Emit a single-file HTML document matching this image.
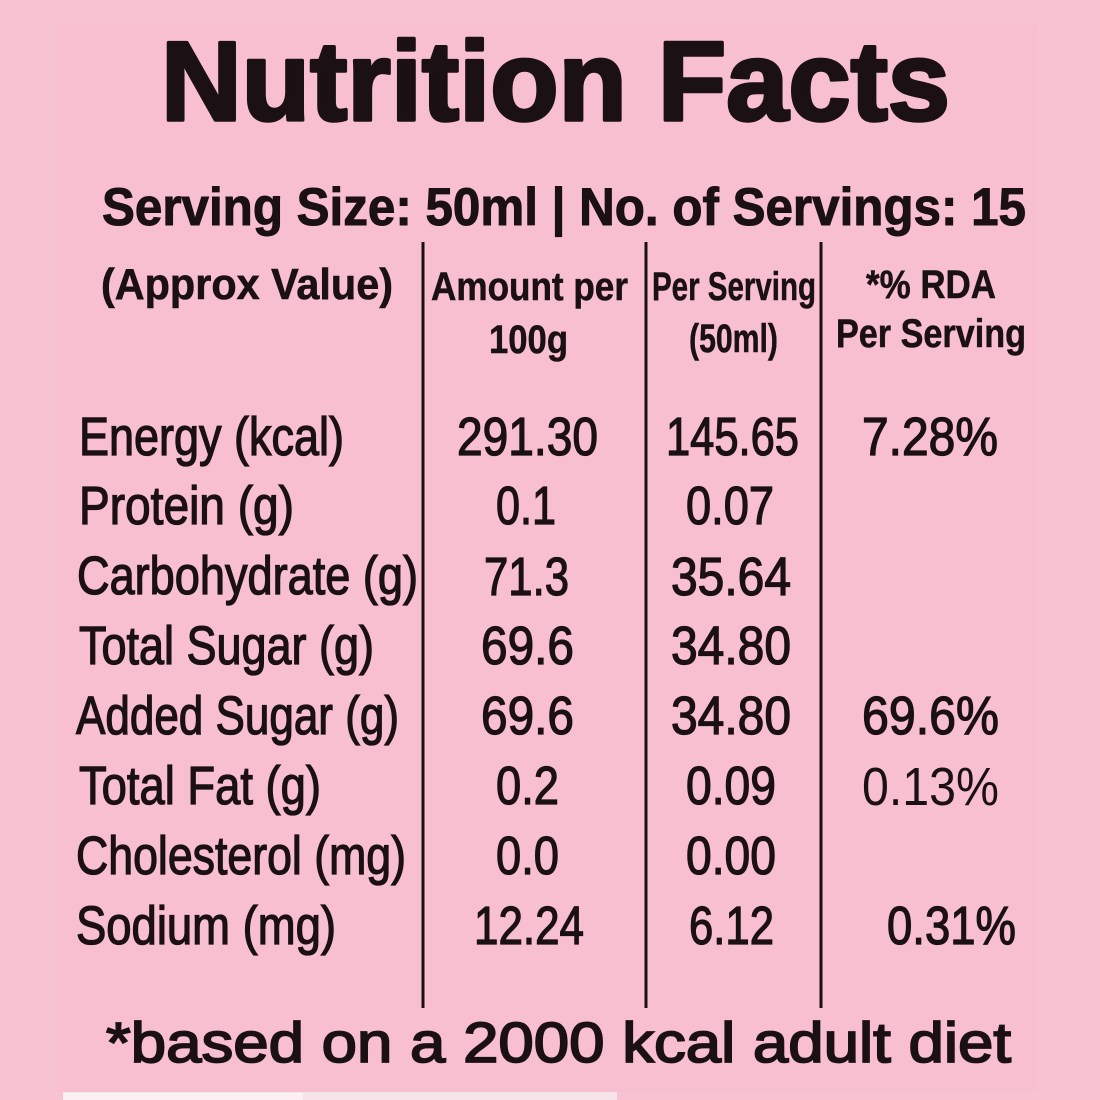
<!DOCTYPE html>
<html>
<head>
<meta charset="utf-8">
<style>
  html,body{margin:0;padding:0;background:#F7C2D3;}
  svg{display:block;}
</style>
</head>
<body>
<svg width="1100" height="1100" viewBox="0 0 1100 1100" xmlns="http://www.w3.org/2000/svg">
  <rect x="0" y="0" width="1100" height="1100" fill="#F7C3D3"/>
  <rect x="56" y="25" width="982" height="1067" fill="#F8BFD0"/>
  <rect x="63" y="1092" width="554" height="8" fill="#F6E4EB"/>
  <rect x="63" y="1093" width="240" height="7" fill="#FBF0F4"/>

  <g fill="#1b1014" stroke="#1b1014" font-family="'Liberation Sans', Arial, sans-serif">
    <!-- Title -->
    <text x="161" y="120" font-size="112" font-weight="bold" stroke-width="3.5" stroke-linejoin="round" textLength="789" lengthAdjust="spacingAndGlyphs">Nutrition Facts</text>
    <!-- Serving line -->
    <text x="102" y="225" font-size="53" font-weight="bold" stroke-width="1" textLength="924" lengthAdjust="spacingAndGlyphs">Serving Size: 50ml  |  No. of Servings: 15</text>

    <!-- Column headers -->
    <text x="101" y="299" font-size="44" font-weight="bold" stroke-width="0.6" textLength="292" lengthAdjust="spacingAndGlyphs">(Approx Value)</text>
    <text x="431" y="300" font-size="40" font-weight="bold" stroke-width="0.5" textLength="197" lengthAdjust="spacingAndGlyphs">Amount per</text>
    <text x="489" y="353" font-size="40" font-weight="bold" stroke-width="0.5" textLength="79" lengthAdjust="spacingAndGlyphs">100g</text>
    <text x="652" y="300" font-size="40" font-weight="bold" stroke-width="0.5" textLength="164" lengthAdjust="spacingAndGlyphs">Per Serving</text>
    <text x="689" y="352" font-size="40" font-weight="bold" stroke-width="0.5" textLength="89" lengthAdjust="spacingAndGlyphs">(50ml)</text>
    <text x="866" y="298" font-size="40" font-weight="bold" stroke-width="0.5" textLength="130" lengthAdjust="spacingAndGlyphs">*% RDA</text>
    <text x="836" y="347" font-size="40" font-weight="bold" stroke-width="0.5" textLength="190" lengthAdjust="spacingAndGlyphs">Per Serving</text>
  </g>

  <!-- Vertical lines -->
  <g stroke="#1b1014" stroke-width="3">
    <line x1="423" y1="242" x2="423" y2="1008"/>
    <line x1="646" y1="242" x2="646" y2="1008"/>
    <line x1="821" y1="242" x2="821" y2="1008"/>
  </g>

  <!-- Rows -->
  <g fill="#1b1014" stroke="#1b1014" stroke-width="1.3" font-family="'Liberation Sans', Arial, sans-serif" font-size="54">
    <text x="79" y="455" textLength="265" lengthAdjust="spacingAndGlyphs">Energy (kcal)</text>
    <text x="79" y="524" textLength="215" lengthAdjust="spacingAndGlyphs">Protein (g)</text>
    <text x="77" y="594" textLength="341" lengthAdjust="spacingAndGlyphs">Carbohydrate (g)</text>
    <text x="79" y="664" textLength="295" lengthAdjust="spacingAndGlyphs">Total Sugar (g)</text>
    <text x="76" y="734" textLength="323" lengthAdjust="spacingAndGlyphs">Added Sugar (g)</text>
    <text x="79" y="804" textLength="242" lengthAdjust="spacingAndGlyphs">Total Fat (g)</text>
    <text x="76" y="874" textLength="330" lengthAdjust="spacingAndGlyphs">Cholesterol (mg)</text>
    <text x="76" y="944" textLength="260" lengthAdjust="spacingAndGlyphs">Sodium (mg)</text>

    <!-- Amount per 100g -->
    <text x="457" y="455" textLength="141" lengthAdjust="spacingAndGlyphs">291.30</text>
    <text x="496" y="524" textLength="60" lengthAdjust="spacingAndGlyphs">0.1</text>
    <text x="484" y="595" textLength="85" lengthAdjust="spacingAndGlyphs">71.3</text>
    <text x="481" y="664" textLength="93" lengthAdjust="spacingAndGlyphs">69.6</text>
    <text x="481" y="734" textLength="93" lengthAdjust="spacingAndGlyphs">69.6</text>
    <text x="496" y="804" textLength="63" lengthAdjust="spacingAndGlyphs">0.2</text>
    <text x="496" y="874" textLength="63" lengthAdjust="spacingAndGlyphs">0.0</text>
    <text x="474" y="944" textLength="110" lengthAdjust="spacingAndGlyphs">12.24</text>

    <!-- Per serving -->
    <text x="666" y="455" textLength="133" lengthAdjust="spacingAndGlyphs">145.65</text>
    <text x="686" y="524" textLength="88" lengthAdjust="spacingAndGlyphs">0.07</text>
    <text x="671" y="595" textLength="120" lengthAdjust="spacingAndGlyphs">35.64</text>
    <text x="671" y="664" textLength="120" lengthAdjust="spacingAndGlyphs">34.80</text>
    <text x="671" y="734" textLength="120" lengthAdjust="spacingAndGlyphs">34.80</text>
    <text x="686" y="804" textLength="90" lengthAdjust="spacingAndGlyphs">0.09</text>
    <text x="686" y="874" textLength="90" lengthAdjust="spacingAndGlyphs">0.00</text>
    <text x="689" y="944" textLength="85" lengthAdjust="spacingAndGlyphs">6.12</text>

    <!-- RDA -->
    <text x="862" y="455" textLength="136" lengthAdjust="spacingAndGlyphs">7.28%</text>
    <text x="862" y="734" textLength="137" lengthAdjust="spacingAndGlyphs">69.6%</text>
    <text x="862" y="805" textLength="137" lengthAdjust="spacingAndGlyphs" stroke-width="0">0.13%</text>
    <text x="887" y="944" textLength="129" lengthAdjust="spacingAndGlyphs">0.31%</text>
  </g>

  <!-- Footer -->
  <text x="106" y="1062" fill="#1b1014" stroke="#1b1014" stroke-width="1.8" font-family="'Liberation Sans', Arial, sans-serif" font-size="57" textLength="905" lengthAdjust="spacingAndGlyphs">*based on a 2000 kcal adult diet</text>
</svg>
</body>
</html>
